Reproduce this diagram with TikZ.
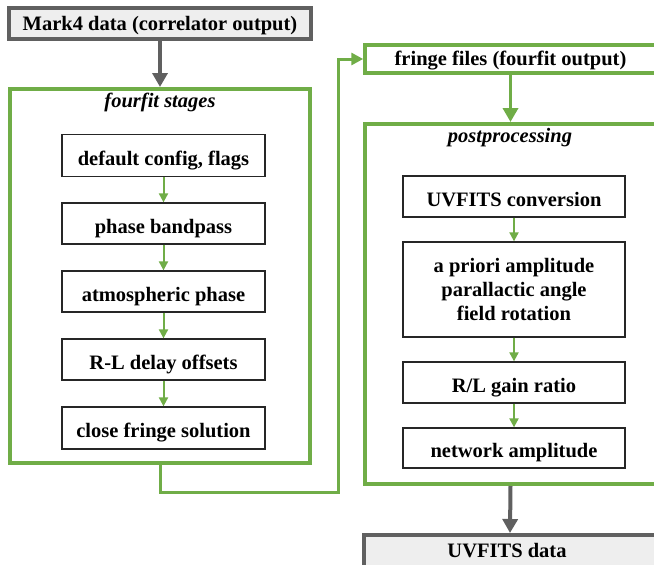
\documentclass[tikz,border=0pt]{standalone}
\usepackage{fontspec}
\setmainfont{Liberation Serif}
\usetikzlibrary{arrows.meta,positioning}
\definecolor{gr}{HTML}{70AD47}
\definecolor{dg}{HTML}{606060}
\definecolor{lg}{HTML}{EEEEEE}
\begin{document}
\begin{tikzpicture}[x=1pt,y=-1pt,
  every node/.style={font=\fontsize{20.5}{24}\selectfont\bfseries, inner sep=0pt},
  databox/.style={draw=dg, line width=4pt, fill=lg},
  groupbox/.style={draw=gr, line width=4pt},
  boxbase/.style={draw=black!85, line width=1.3pt, fill=white, align=center},
  stagebox/.style={boxbase, text height=19pt, text depth=0pt},
  bigarrow/.style={draw=dg, line width=4pt, -{Triangle[width=15pt,length=14pt]}},
  smallarrow/.style={draw=gr, line width=2pt, -{Triangle[width=9pt,length=9pt]}},
  conn/.style={draw=gr, line width=3pt, -{Triangle[width=12pt,length=12pt]}},
  grouptitle/.style={font=\fontsize{20.5}{24}\selectfont\bfseries\itshape}]
\useasboundingbox (0,0) rectangle (654,565);
\clip (0,0) rectangle (654,565);
% left column
\node[databox, minimum width=302pt, minimum height=31pt, text height=13pt, text depth=0pt] (mark) at (160,23.5) {Mark4 data (correlator output)};
\node[groupbox, minimum width=300pt, minimum height=374pt] (fourfit) at (160,276) {};
\node[grouptitle] (ft) at (160,102.5) {fourfit stages};
\node[stagebox, minimum width=203pt, minimum height=42pt] (s1) at (163.5,155.5) {default config, flags};
\node[stagebox, minimum width=203pt, minimum height=41pt] (s2) at (163.5,223.5) {phase bandpass};
\node[stagebox, minimum width=203pt, minimum height=41pt] (s3) at (163.5,291.5) {atmospheric phase};
\node[stagebox, minimum width=203pt, minimum height=41pt] (s4) at (163.5,359.5) {R-L delay offsets};
\node[stagebox, minimum width=203pt, minimum height=42pt] (s5) at (163.5,428) {close fringe solution};
% right column
\node[draw=gr, line width=3.5pt, minimum width=291pt, minimum height=28pt, text height=12pt, text depth=0pt] (fringe) at (510.5,59) {fringe files (fourfit output)};
\node[groupbox, minimum width=291pt, minimum height=360pt] (post) at (510.5,304) {};
\node[grouptitle] (pt) at (510,138) {postprocessing};
\node[stagebox, minimum width=222pt, minimum height=41pt] (p1) at (514,196.5) {UVFITS conversion};
\node[boxbase, minimum width=222pt, minimum height=95pt] (p2) at (514,289.5) {a priori amplitude\\parallactic angle\\field rotation};
\node[stagebox, minimum width=222pt, minimum height=41pt] (p3) at (514,382.5) {R/L gain ratio};
\node[stagebox, minimum width=222pt, minimum height=40pt] (p4) at (514,448) {network amplitude};
\node[databox, minimum width=292pt, minimum height=40pt] (uv) at (510,555) {};
\node[anchor=base] (uvt) at (507,557) {UVFITS data};
% connectors
\draw[bigarrow] (mark.south) -- (fourfit.north);
\draw[smallarrow] (s1) -- (s2);
\draw[smallarrow] (s2) -- (s3);
\draw[smallarrow] (s3) -- (s4);
\draw[smallarrow] (s4) -- (s5);
\coordinate (c1) at (338,492);
\draw[conn] (fourfit.south) |- (c1) |- (fringe.west);
\draw[draw=gr, line width=3.5pt, -{Triangle[width=15pt,length=14pt]}] (fringe.south) -- (post.north);
\draw[smallarrow] (p1) -- (p2);
\draw[smallarrow] (p2) -- (p3);
\draw[smallarrow] (p3) -- (p4);
\draw[bigarrow] (post.south) -- (uv.north);
\end{tikzpicture}
\end{document}
